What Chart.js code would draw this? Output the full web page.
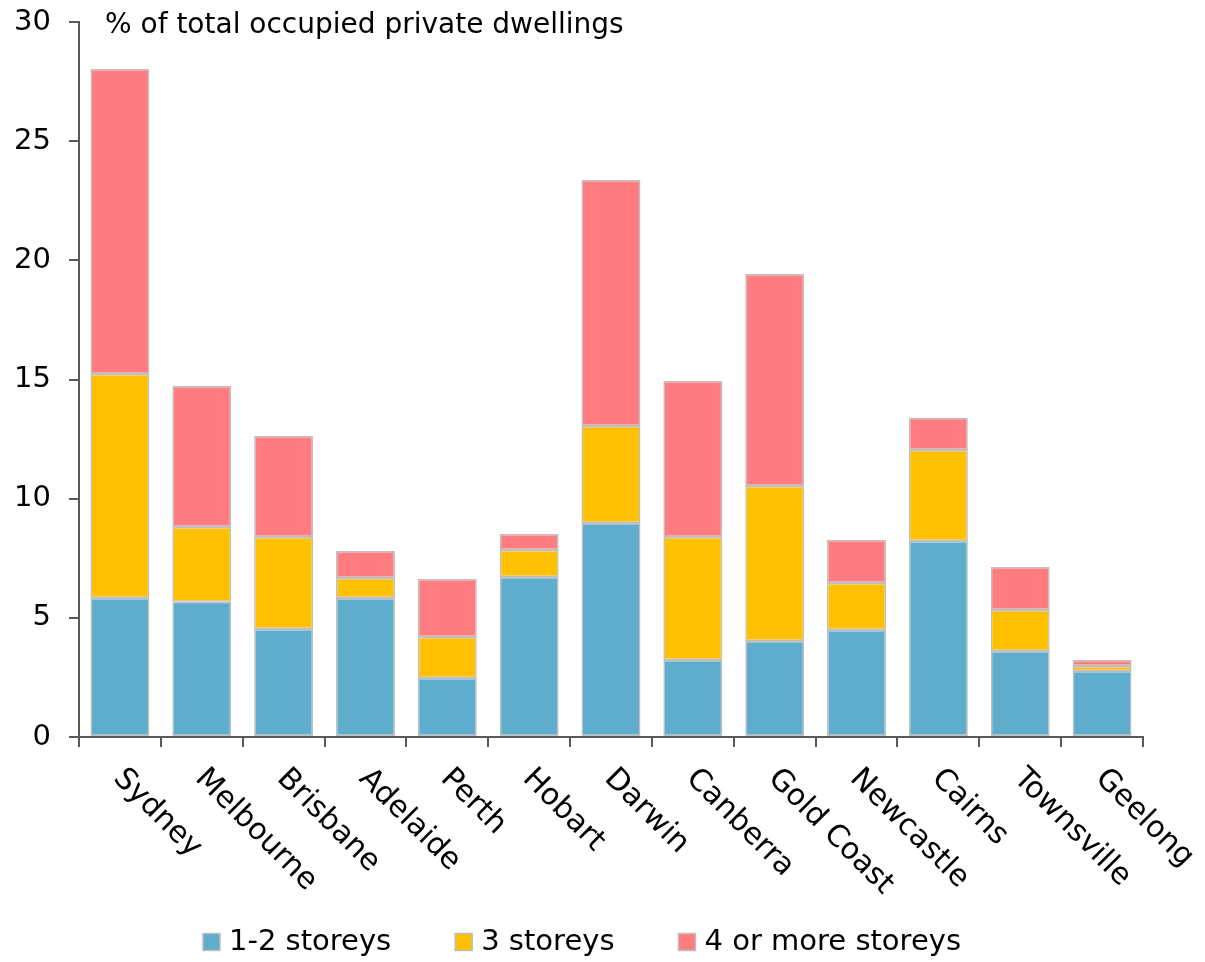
<!DOCTYPE html>
<html>
<head>
<meta charset="utf-8">
<script src="https://cdn.jsdelivr.net/npm/chart.js@4/dist/chart.umd.min.js"></script>
<style>
  html, body { margin: 0; padding: 0; background: #fff; }
  #wrap { width: 1205px; height: 962px; }
</style>
</head>
<body>
<div id="wrap"><canvas id="dwellingsChart"></canvas></div>
<script>
const cities = ["Sydney", "Melbourne", "Brisbane", "Adelaide", "Perth", "Hobart", "Darwin",
  "Canberra", "Gold Coast", "Newcastle", "Cairns", "Townsville", "Geelong"];
const lowRise = [5.83, 5.67, 4.53, 5.83, 2.48, 6.71, 8.98, 3.23, 4.03, 4.49, 8.22, 3.61, 2.77];
const threeStorey = [9.40, 3.14, 3.86, 0.84, 1.72, 1.14, 4.07, 5.16, 6.50, 1.97, 3.82, 1.72, 0.21];
const fourPlus = [12.80, 5.92, 4.24, 1.13, 2.43, 0.67, 10.32, 6.55, 8.90, 1.81, 1.35, 1.80, 0.25];
const seriesNames = ["1-2 storeys", "3 storeys", "4 or more storeys"];
const seriesColors = ["#5fadcc", "#ffc000", "#ff7c80"];
const yTicks = [0, 5, 10, 15, 20, 25, 30];
const unitLabel = "% of total occupied private dwellings";

const FONT = "'DejaVu Sans', sans-serif";
const AXIS_COLOR = "#595959";
const EDGE_COLOR = "#bfbfbf";

// rotated city names, unit label at the top, and the legend row at the bottom
const labelsPlugin = {
  id: "cityLabels",
  afterDraw(chart) {
    const ctx = chart.ctx;
    const x = chart.scales.x;
    const area = chart.chartArea;
    ctx.save();
    ctx.fillStyle = "#000";
    ctx.font = "30px " + FONT;
    ctx.textAlign = "left";
    ctx.textBaseline = "middle";
    cities.forEach((name, i) => {
      const px = x.getPixelForValue(i);
      ctx.save();
      ctx.translate(px - 2, area.bottom + 37);
      ctx.rotate(Math.PI / 4);
      ctx.fillText(name, 0, 0);
      ctx.restore();
    });

    ctx.font = "28px " + FONT;
    ctx.fillText(unitLabel, area.left + 26, area.top + 4);

    // legend
    ctx.font = "29px " + FONT;
    const box = 17, gapText = 9, gapItem = 64, legendY = 942;
    const items = chart.data.datasets.map(ds => ({
      text: ds.label, color: ds.backgroundColor, w: ctx.measureText(ds.label).width
    }));
    let total = 0;
    items.forEach((it, i) => { total += box + gapText + it.w + (i < items.length - 1 ? gapItem : 0); });
    let cx = 582 - total / 2;
    items.forEach(it => {
      ctx.fillStyle = it.color;
      ctx.fillRect(cx, legendY - box / 2, box, box);
      ctx.strokeStyle = EDGE_COLOR;
      ctx.lineWidth = 1.5;
      ctx.strokeRect(cx, legendY - box / 2, box, box);
      ctx.fillStyle = "#000";
      ctx.fillText(it.text, cx + box + gapText, legendY);
      cx += box + gapText + it.w + gapItem;
    });
    ctx.restore();
  }
};

const barStyle = { borderColor: EDGE_COLOR, borderWidth: 1.5, borderSkipped: false,
  barPercentage: 0.72, categoryPercentage: 1.0 };

new Chart(document.getElementById("dwellingsChart"), {
  type: "bar",
  data: {
    labels: cities,
    datasets: [
      { label: seriesNames[0], data: lowRise, backgroundColor: seriesColors[0], ...barStyle },
      { label: seriesNames[1], data: threeStorey, backgroundColor: seriesColors[1], ...barStyle },
      { label: seriesNames[2], data: fourPlus, backgroundColor: seriesColors[2], ...barStyle }
    ]
  },
  options: {
    responsive: true,
    maintainAspectRatio: false,
    animation: false,
    layout: { padding: { top: 0, right: 62, left: 0, bottom: 0 } },
    plugins: {
      legend: { display: false },
      tooltip: { enabled: false }
    },
    scales: {
      x: {
        stacked: true,
        afterFit(scale) { scale.height = 225; },
        grid: { display: true, drawOnChartArea: false, offset: true, tickLength: 10,
          color: AXIS_COLOR, lineWidth: 2 },
        border: { display: true, color: AXIS_COLOR, width: 2 },
        ticks: { display: false }
      },
      y: {
        stacked: true,
        min: 0,
        max: 30,
        afterFit(scale) { scale.width = 79; scale.paddingTop = 22; scale.paddingBottom = 0; },
        afterBuildTicks(scale) { scale.ticks = yTicks.map(v => ({ value: v })); },
        grid: { display: true, drawOnChartArea: false, tickLength: 10,
          color: AXIS_COLOR, lineWidth: 2 },
        border: { display: true, color: AXIS_COLOR, width: 2 },
        ticks: { color: "#000", font: { family: FONT, size: 29 }, padding: 18 }
      }
    }
  },
  plugins: [labelsPlugin]
});
</script>
</body>
</html>
